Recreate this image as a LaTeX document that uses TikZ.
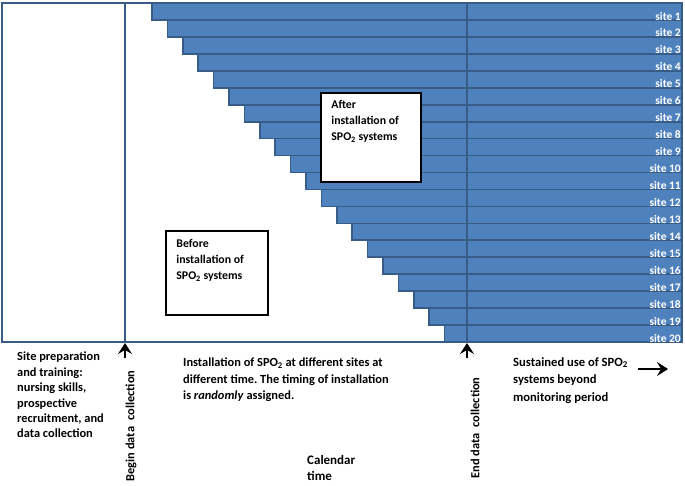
\documentclass[tikz,border=0pt]{standalone}
\usepackage{fontspec}
\setmainfont{Carlito}
\usetikzlibrary{positioning,arrows.meta}
\definecolor{barblue}{RGB}{79,129,189}
\definecolor{bardark}{RGB}{56,92,136}
\tikzset{
  sitebar/.style={fill=barblue, draw=bardark, line width=1.7pt},
  sitelabel/.style={text=white, font=\bfseries\fontsize{11.5}{11}\selectfont, anchor=base east, inner sep=0pt},
  phasebox/.style={draw=black, line width=1.6pt, fill=white, inner sep=0pt},
  note/.style={align=left, anchor=north west, inner sep=0pt, font=\bfseries\fontsize{11.8}{16}\selectfont},
  marker/.style={-{Stealth[length=11pt,width=14pt,inset=4pt]}, line width=2.6pt}
}
\frenchspacing
\begin{document}
\begin{tikzpicture}[x=1pt, y=-1pt]
    \useasboundingbox (0,0) rectangle (685,485);

    % Outer frame
    \draw[bardark, line width=1.7pt] (2,3) rectangle (682,342);

    % Staircase of sites
    \foreach \i in {1,...,20} {
        \pgfmathsetmacro{\top}{3+(\i-1)*16.95}
        \pgfmathsetmacro{\left}{152+(\i-1)*15.4}
        \draw[sitebar] (\left,\top) rectangle (682,\top+16.95);
    }

    % Begin and end of data collection
    \draw[bardark, line width=1.7pt] (125,3) -- (125,342);
    \draw[bardark, line width=1.7pt] (467,3) -- (467,342);

    % Site labels
    \foreach \i in {1,...,20} {
        \pgfmathsetmacro{\top}{3+(\i-1)*16.95}
        \node[sitelabel] (site\i) at (681,\top+17) {site \i};
    }

    \coordinate (begin) at (125,343);
    \coordinate (end) at (467,343);
    \coordinate (begintail) at (125,358);
    \coordinate (endtail) at (467,358);
    \draw[marker] (begintail) -- (begin);
    \draw[marker] (endtail) -- (end);

    % Phase boxes
    \node[phasebox, minimum width=100pt, minimum height=89pt] (after) at (371,137.5) {};
    \node[note, below right=8pt and 11pt of after.north west] (aftertext)
        {After\\installation of\\SPO\textsubscript{2} systems};
    \node[phasebox, minimum width=102pt, minimum height=84pt] (before) at (217,273) {};
    \node[note, below right=9pt and 11pt of before.north west] (beforetext)
        {Before\\installation of\\SPO\textsubscript{2} systems};

    % Texts below the time line
    \node[note, font=\bfseries\fontsize{12.4}{15.4}\selectfont] (prep) at (17,352)
        {Site preparation\\and training:\\nursing skills,\\prospective\\recruitment, and\\data collection};
    \node[note, font=\bfseries\fontsize{12.4}{16.5}\selectfont] (install) at (183,358)
        {Installation of SPO\textsubscript{2} at different sites at\\different time. The timing of installation\\is \textit{randomly} assigned.};
    \node[note, font=\bfseries\fontsize{12.6}{17.5}\selectfont] (sustain) at (513,357)
        {Sustained use of SPO\textsubscript{2}\\systems beyond\\monitoring period};
    \node[note, font=\bfseries\fontsize{13}{16}\selectfont] (calendar) at (307,455)
        {Calendar\\time};
    \node[rotate=90, inner sep=0pt, font=\bfseries\fontsize{12.4}{12}\selectfont] (begintext) at (131,426) {Begin data\enspace collection};
    \node[rotate=90, inner sep=0pt, font=\bfseries\fontsize{12.4}{12}\selectfont] (endtext) at (475,428) {End data\enspace collection};

    % Continuing use
    \coordinate (onward) at (668,369);
    \draw[marker] (638,369) -- (onward);
\end{tikzpicture}
\end{document}
